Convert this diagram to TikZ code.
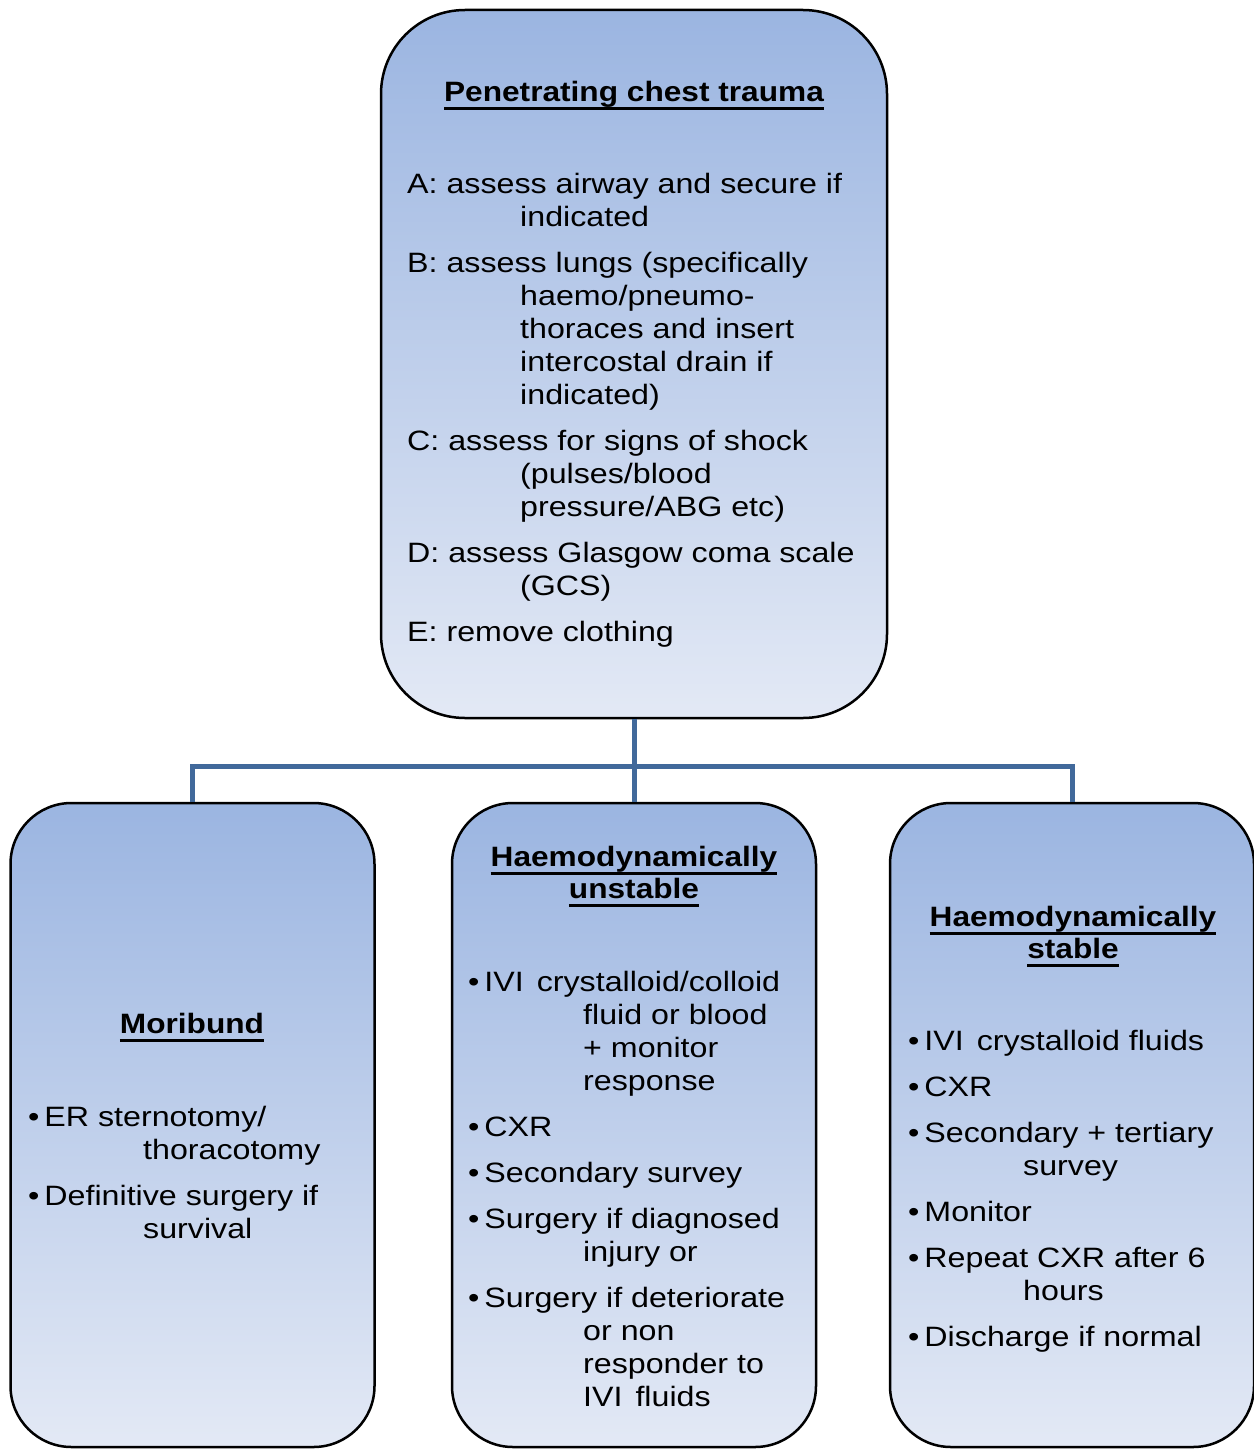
\documentclass[tikz,border=0pt]{standalone}
\usepackage{fontspec}
\setmainfont{Liberation Sans}[FakeStretch=1.15, BoldFeatures={FakeStretch=1.13}]
\newcommand\ulx[1]{\leavevmode\setbox0=\hbox{#1}\rlap{\rule[-8.5pt]{\wd0}{3pt}}\box0}
\newcommand\hind{\hspace*{113pt}}
\newcommand\hindb{\hspace*{115pt}}
\newcommand\bulx{\textbullet\hspace{5pt}}
\newcommand\wsp{\hspace{4pt}}
\definecolor{gtop}{HTML}{9BB5E1}
\definecolor{gbot}{HTML}{E3E9F5}
\definecolor{connc}{HTML}{41699B}
\tikzset{
  box/.style={draw=black, line width=2.5pt, top color=gtop, bottom color=gbot, inner sep=0pt},
  topbox/.style={box, rounded corners=84pt, minimum width=506pt, minimum height=708pt},
  lowbox/.style={box, rounded corners=61pt, minimum width=364pt, minimum height=644pt},
  txt/.style={anchor=base west, align=left, inner sep=0pt, font={\fontsize{28}{33}\selectfont}},
  ttl/.style={anchor=base, align=center, inner sep=0pt, font={\bfseries\fontsize{28}{32}\selectfont}},
  conn/.style={draw=connc, line width=5pt}
}
\begin{document}
\begin{tikzpicture}[x=1pt,y=1pt]
\useasboundingbox (0,0) rectangle (1253,-1450);
% boxes
\node[topbox] (top) at (634,-364) {};
\node[lowbox] (left) at (192.5,-1125) {};
\node[lowbox] (mid) at (634,-1125) {};
\node[lowbox] (right) at (1072,-1125) {};
% connectors
\coordinate (bus) at (634,-766);
\draw[conn] (top.south) -- (bus) -- (mid.north);
\draw[conn] (left.north) |- (bus) -| (right.north);
% top box text (anchors are at the baseline of the last line)
\node[ttl] (ttop) at (634,-102) {\ulx{Penetrating chest trauma}};
\node[txt] (ttext) at (407,-641) {A: assess airway and secure if\\\hind indicated\\[13pt]B: assess lungs (specifically\\\hind haemo/pneumo-\\\hind thoraces and insert\\\hind intercostal drain if\\\hind indicated)\\[13pt]C: assess for signs of shock\\\hind (pulses/blood\\\hind pressure/ABG etc)\\[13pt]D: assess Glasgow coma scale\\\hind (GCS)\\[13pt]E: remove clothing};
% left box text
\node[ttl] (tleft) at (192,-1033) {\ulx{Moribund}};
\node[txt] (lleft) at (28,-1238) {\bulx ER sternotomy/\\\hindb thoracotomy\\[13pt]\bulx Definitive surgery if\\\hindb survival};
% middle box text
\node[ttl] (tmid) at (634,-898) {\ulx{Haemodynamically}\\\ulx{unstable}};
\node[txt] (lmid) at (468,-1406) {\bulx IVI \wsp crystalloid/colloid\\\hindb fluid or blood\\\hindb + monitor\\\hindb response\\[13pt]\bulx CXR\\[13pt]\bulx Secondary survey\\[13pt]\bulx Surgery if diagnosed\\\hindb injury or\\[13pt]\bulx Surgery if deteriorate\\\hindb or non\\\hindb responder to\\\hindb IVI \wsp fluids};
% right box text
\node[ttl] (tright) at (1073,-958) {\ulx{Haemodynamically}\\\ulx{stable}};
\node[txt] (lright) at (908,-1346) {\bulx IVI \wsp crystalloid fluids\\[13pt]\bulx CXR\\[13pt]\bulx Secondary + tertiary\\\hindb survey\\[13pt]\bulx Monitor\\[13pt]\bulx Repeat CXR after 6\\\hindb hours\\[13pt]\bulx Discharge if normal};
\end{tikzpicture}
\end{document}
